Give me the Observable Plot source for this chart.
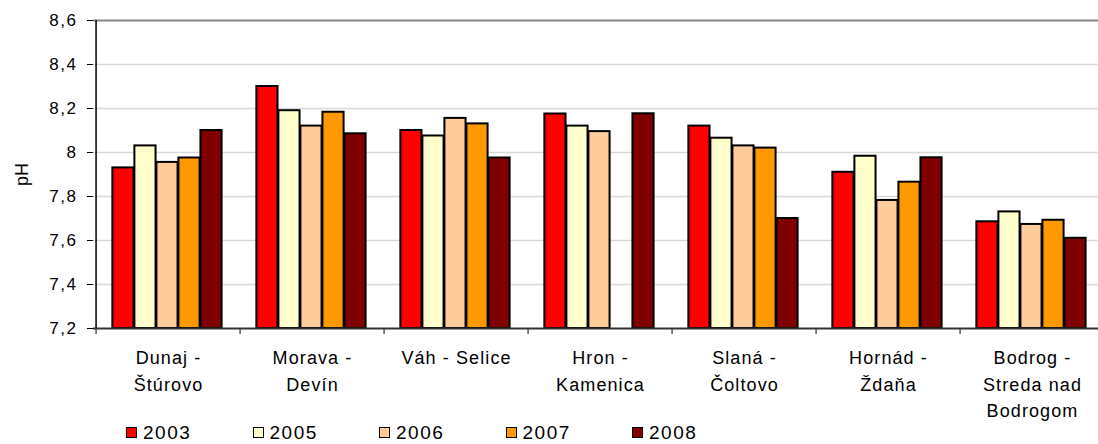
<!DOCTYPE html>
<html>
<head>
<meta charset="utf-8">
<script src="https://cdn.jsdelivr.net/npm/d3@7"></script>
<script src="https://cdn.jsdelivr.net/npm/@observablehq/plot@0.6"></script>
<style>
  html, body { margin: 0; padding: 0; background: #fff; overflow: hidden; }
  #chart { width: 1098px; height: 444px; position: relative; font-family: "Liberation Sans", Arial, sans-serif; overflow: hidden; }
  #chart svg { overflow: visible; }
  g[aria-label="y-axis tick label"] text { letter-spacing: 1.5px; }
  g[aria-label="y-axis label"] text { font-size: 18px; }
  g[aria-label="x-axis tick label"] text { letter-spacing: 1.1px; }
  #legend { position: absolute; left: 126px; top: 421px; display: flex; height: 23px; align-items: center; }
  .item { width: 126.5px; display: flex; align-items: center; font-size: 19px; letter-spacing: 1.5px; color: #000; }
  .sw { width: 9px; height: 9px; border: 1.5px solid #000; margin-right: 6px; }
</style>
</head>
<body>
<div id="chart"></div>
<script>
// Categories (measuring stations)
const categories = ["Dunaj - Štúrovo", "Morava - Devín", "Váh - Selice", "Hron - Kamenica", "Slaná - Čoltovo", "Hornád - Ždaňa", "Bodrog - Streda nad Bodrogom"];
const categoryLabels = ["Dunaj -\nŠtúrovo", "Morava -\nDevín", "Váh - Selice", "Hron -\nKamenica", "Slaná -\nČoltovo", "Hornád -\nŽdaňa", "Bodrog -\nStreda nad\nBodrogom"];
const years = ["2003", "2005", "2006", "2007", "2008"];
const colors = ["#ff0000", "#ffffcc", "#ffcc99", "#ff9900", "#800000"];
// pH values per year (null = no value)
const v2003 = [7.93, 8.30, 8.10, 8.175, 8.12, 7.91, 7.685];
const v2005 = [8.03, 8.19, 8.075, 8.12, 8.065, 7.983, 7.73];
const v2006 = [7.955, 8.12, 8.155, 8.095, 8.03, 7.782, 7.673];
const v2007 = [7.975, 8.183, 8.13, null, 8.02, 7.865, 7.692];
const v2008 = [8.10, 8.085, 7.975, 8.176, 7.70, 7.976, 7.61];
const yTicks = [7.2, 7.4, 7.6, 7.8, 8.0, 8.2, 8.4, 8.6];

const series = [v2003, v2005, v2006, v2007, v2008];
const rows = years.map((y, j) => categories.map((c, i) => ({cat: c, year: y, value: series[j][i]})));

const W = 1098, H = 421, mL = 93, mR = -9, mT = 20, mB = 93;
const band = (W - mL - mR) / categories.length;
const padL = band * 0.113, barW = band * 0.152;

const fmt = d => String(+d.toFixed(1)).replace(".", ",");

const marks = [
  Plot.ruleY(yTicks.slice(1, -1), {stroke: "#d9d9d9", strokeWidth: 1.5}),
  Plot.ruleY([yTicks[yTicks.length - 1]], {stroke: "#868686", strokeWidth: 2}),
  ...rows.map((r, j) => Plot.barY(r, {
    x: "cat", y1: yTicks[0], y2: "value",
    fill: colors[j], stroke: "#000", strokeWidth: 2,
    insetLeft: padL + j * barW, insetRight: band - padL - (j + 1) * barW
  })),
  Plot.ruleY([yTicks[0]], {stroke: "#333", strokeWidth: 2}),
  Plot.ruleX([categories[0]], {stroke: "#000", strokeWidth: 1.5, dx: -band / 2}),
  Plot.ruleX(categories, {x: d => d, y1: yTicks[0], y2: yTicks[0], insetBottom: -6, dx: -band / 2, stroke: "#333", strokeWidth: 1.2}),
  Plot.axisY({ticks: yTicks, tickFormat: fmt, tickSize: 6, tickPadding: 10, fontSize: 17, label: "pH", labelAnchor: "center", labelOffset: 78, labelArrow: "none"}),
  Plot.axisX({tickSize: 0, tickPadding: 17, fontSize: 18, lineHeight: 1.47, tickFormat: d => categoryLabels[categories.indexOf(d)], label: null})
];

const plot = Plot.plot({
  width: W, height: H,
  marginLeft: mL, marginRight: mR, marginTop: mT, marginBottom: mB,
  style: {fontFamily: "'Liberation Sans', Arial, sans-serif", fontSize: "17px", color: "#000", background: "#fff", overflow: "visible"},
  x: {type: "band", domain: categories, paddingInner: 0, paddingOuter: 0},
  y: {domain: [7.2, 8.6]},
  marks
});
document.getElementById("chart").appendChild(plot);

const legend = document.createElement("div");
legend.id = "legend";
years.forEach((y, j) => {
  const it = document.createElement("div");
  it.className = "item";
  const sw = document.createElement("span");
  sw.className = "sw";
  sw.style.background = colors[j];
  it.appendChild(sw);
  it.appendChild(document.createTextNode(y));
  legend.appendChild(it);
});
document.getElementById("chart").appendChild(legend);
</script>
</body>
</html>
